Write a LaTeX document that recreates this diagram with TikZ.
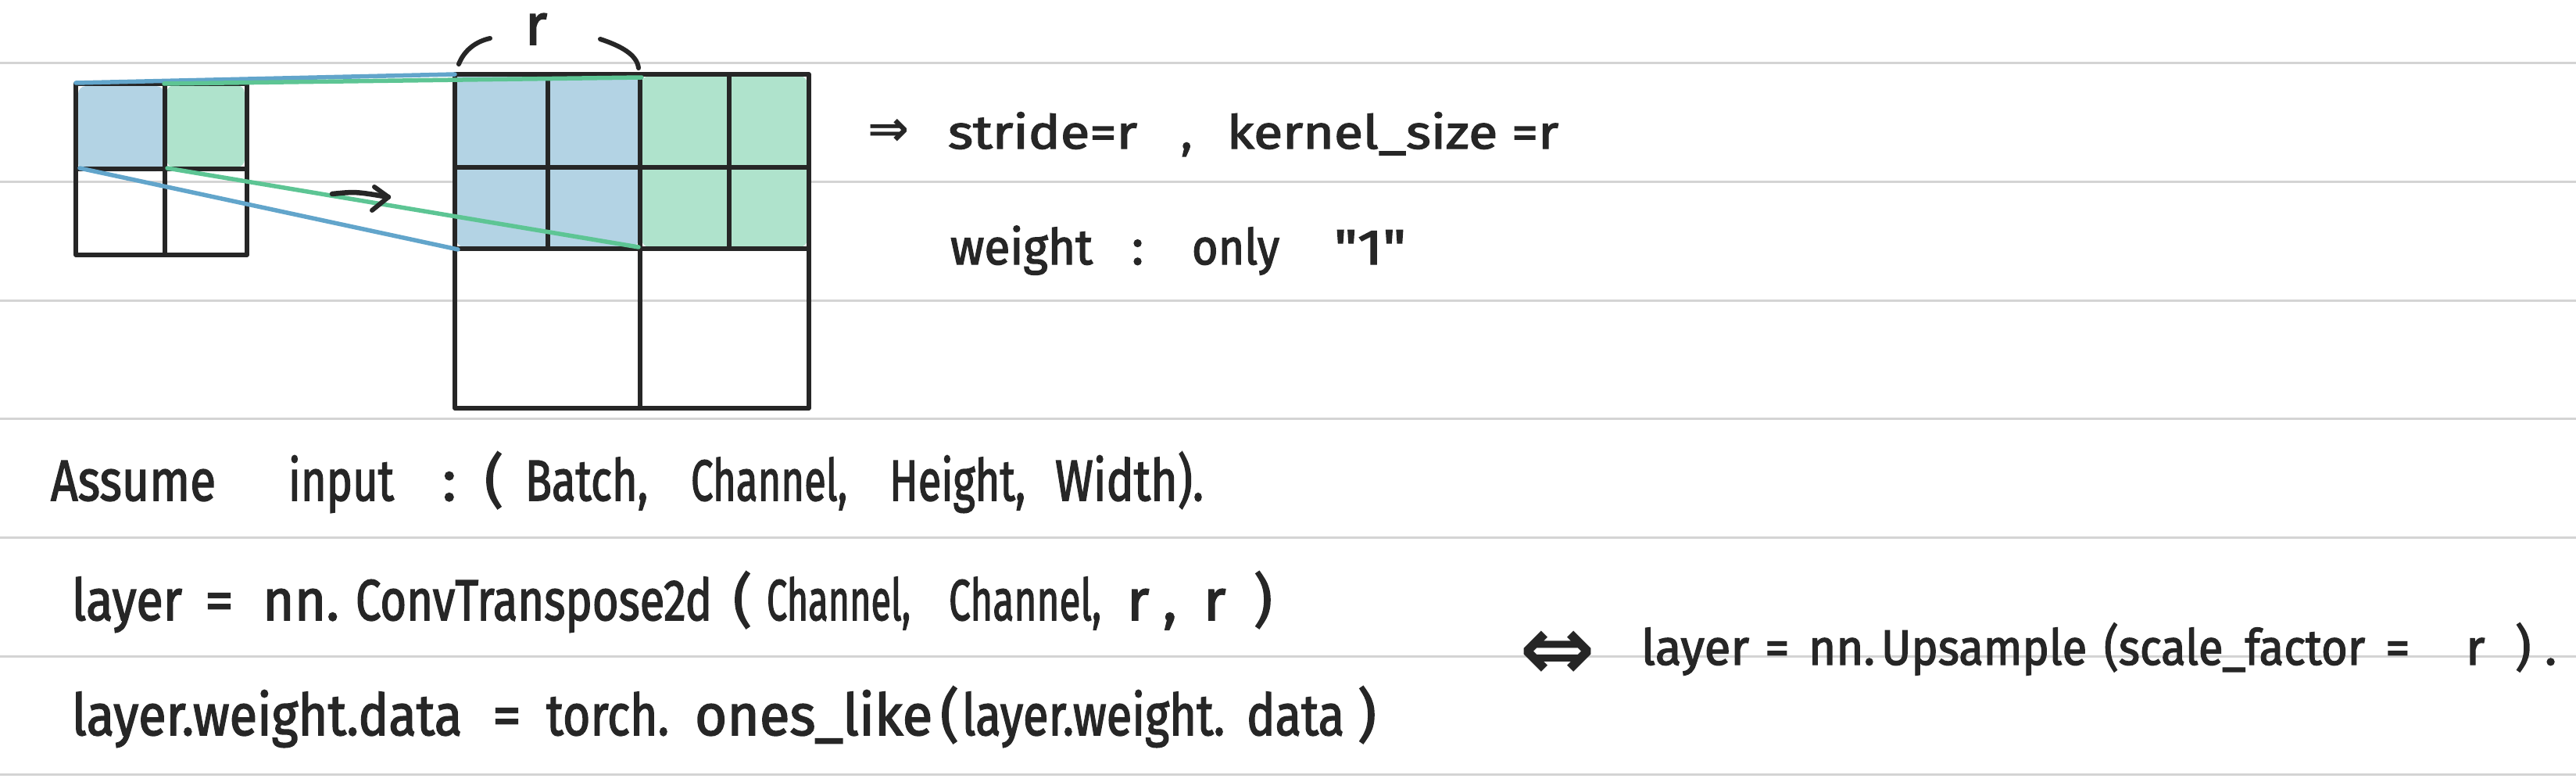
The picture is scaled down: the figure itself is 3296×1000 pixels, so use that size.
\documentclass[tikz,border=0pt]{standalone}
\usepackage{fontspec}
\usepackage{graphicx}
\newfontfamily\hand[FakeBold=2.2]{Fira Sans}
\newfontfamily\djv{DejaVu Sans}
\newcommand\fw[2]{\resizebox{#1cm}{\height}{#2}}
\definecolor{ink}{HTML}{262626}
\definecolor{rulegray}{HTML}{D4D4D4}
\definecolor{bluefill}{HTML}{B3D3E4}
\definecolor{greenfill}{HTML}{AFE3CC}
\definecolor{blueline}{HTML}{62A5CB}
\definecolor{greenline}{HTML}{5DC594}
\begin{document}
\begin{tikzpicture}[x=0.01cm,y=-0.01cm,
  rule/.style={draw=rulegray,line width=0.03cm},
  gridline/.style={draw=ink,line width=0.055cm,line cap=round,line join=round},
  pen/.style={draw=ink,line width=0.06cm,line cap=round,line join=round},
  bluelink/.style={draw=blueline,line width=0.055cm,line cap=round},
  greenlink/.style={draw=greenline,line width=0.055cm,line cap=round},
  txt/.style={anchor=base west,inner sep=0pt,outer sep=0pt,text=ink,font=\hand\fontsize{21}{24}\selectfont},
  txta/.style={txt,font=\hand\fontsize{17}{20}\selectfont},
  txtb/.style={txt,font=\hand\fontsize{18}{20}\selectfont},
  sym/.style={inner sep=0pt,outer sep=0pt,text=ink}
]
\useasboundingbox (0,0) rectangle (3296,1000);
\fill[white] (0,0) rectangle (3296,1000);
% ruled lines
\foreach \k in {0,...,6}
  \draw[rule] (0,{80.7+151.7*\k}) -- (3296,{80.7+151.7*\k});

% ---- small grid ----
\coordinate (s00) at (97,107);
\coordinate (s10) at (211,107);
\coordinate (s20) at (316,107);
\coordinate (s01) at (97,216);
\coordinate (s11) at (211,216);
\coordinate (s21) at (316,216);
\coordinate (s02) at (97,326);
\coordinate (s12) at (211,326);
\coordinate (s22) at (316,326);
\fill[bluefill,rounded corners=0.1cm] (100,110) rectangle (210,219);
\fill[greenfill,rounded corners=0.1cm] (213,109) rectangle (313,214);
\draw[gridline] (s00) rectangle (s22);
\draw[gridline] (s10) -- (s12);
\draw[gridline] (s01) -- (s21);

% ---- big grid ----
\coordinate (b00) at (582,95);
\coordinate (b10) at (701,95);
\coordinate (b20) at (819,95);
\coordinate (b30) at (933,95);
\coordinate (b40) at (1035,95);
\coordinate (b01) at (582,214);
\coordinate (b41) at (1035,214);
\coordinate (b02) at (582,318);
\coordinate (b12) at (701,318);
\coordinate (b22) at (819,318);
\coordinate (b32) at (933,318);
\coordinate (b42) at (1035,318);
\coordinate (b03) at (582,522);
\coordinate (b23) at (819,522);
\coordinate (b43) at (1035,522);
\fill[bluefill,rounded corners=0.1cm] (584,92) rectangle (817,316);
\fill[greenfill,rounded corners=0.1cm] (821,97) rectangle (1033,316);
\draw[gridline] (b00) rectangle (b43);
\draw[gridline] (b01) -- (b41);
\draw[gridline] (b02) -- (b42);
\draw[gridline] (b20) -- (b23);
\draw[gridline] (b10) -- (b12);
\draw[gridline] (b30) -- (b32);

% ---- connectors ----
\coordinate (bl1) at (97,106);
\coordinate (bl2) at (582,95);
\coordinate (bl3) at (102,215);
\coordinate (bl4) at (586,319);
\coordinate (gl1) at (210,107);
\coordinate (gl2) at (821,99);
\coordinate (gl3) at (214,215);
\coordinate (gl4) at (817,316);
\draw[bluelink] (bl1) -- (bl2);
\draw[bluelink] (bl3) -- (bl4);
\draw[greenlink] (gl1) -- (gl2);
\draw[greenlink] (gl3) -- (gl4);

% ---- small arrow ----
\coordinate (ar1) at (425,248);
\coordinate (ar2) at (497,252);
\coordinate (ah1) at (479,239);
\coordinate (ah2) at (476,269);
\draw[pen,line width=0.065cm] (ar1) .. controls (455,245) .. (ar2);
\draw[pen,line width=0.06cm] (ah1) -- (ar2) -- (ah2);

% ---- brace with r ----
\coordinate (lb1) at (587,82);
\coordinate (lb2) at (627,49);
\coordinate (rb1) at (768,50);
\coordinate (rb2) at (817,87);
\draw[pen] (lb1) .. controls (594,64) and (609,53) .. (lb2);
\draw[pen] (rb1) .. controls (795,59) and (815,70) .. (rb2);
\node[txt,anchor=base] (rlab) at (686,57) {r};

% ---- line A ----
\node[sym,font=\djv\bfseries\fontsize{18}{20}\selectfont] (a0) at (1137,169) {⇒};
\node[txta] (a1) at (1213,190) {\fw{2.42}{stride=r}};
\node[txta] (a2) at (1511,190) {,};
\node[txta] (a3) at (1570,190) {\fw{4.24}{kernel\_size =r}};

% ---- line B ----
\node[txtb] (b1) at (1216,338) {\fw{1.82}{weight}};
\node[txtb] (b2) at (1448,338) {:};
\node[txtb] (b3) at (1525,338) {\fw{1.12}{only}};
\node[txtb] (b4) at (1707,338) {\fw{0.92}{"1"}};

% ---- line C ----
\node[txt] (c1) at (65,640) {\fw{2.11}{Assume}};
\node[txt] (c2) at (369,640) {\fw{1.35}{input}};
\node[txt] (c3) at (566,640) {:};
\node[txt] (c4) at (620,640) {(};
\node[txt] (c5) at (672,640) {\fw{1.57}{Batch,}};
\node[txt] (c6) at (884,640) {\fw{2.00}{Channel,}};
\node[txt] (c7) at (1138,640) {\fw{1.74}{Height,}};
\node[txt] (c8) at (1350,640) {\fw{1.90}{Width).}};

% ---- line D ----
\node[txt] (d1) at (92,793) {\fw{1.41}{layer}};
\node[txt] (d2) at (262,793) {=};
\node[txt] (d3) at (336,793) {\fw{0.98}{nn.}};
\node[txt] (d4) at (455,793) {\fw{4.56}{ConvTranspose2d}};
\node[txt] (d5) at (938,793) {(};
\node[txt] (d6) at (981,793) {\fw{1.84}{Channel,}};
\node[txt] (d7) at (1214,793) {\fw{1.95}{Channel,}};
\node[txt] (d8) at (1442,793) {r};
\node[txt] (d8c) at (1488,793) {,};
\node[txt] (d9) at (1540,793) {r};
\node[txt] (d10) at (1604,793) {)};

% ---- line E ----
\node[txt] (e1) at (92,940) {\fw{4.99}{layer.weight.data}};
\node[txt] (e2) at (630,940) {=};
\node[txt] (e3) at (699,940) {\fw{1.57}{torch.}};
\node[txt] (e4) at (889,940) {\fw{3.04}{ones\_like}};
\node[txt] (e5) at (1203,940) {(};
\node[txt] (e6) at (1231,940) {\fw{3.36}{layer.weight.}};
\node[txt] (e7) at (1595,940) {\fw{1.25}{data}};
\node[txt] (e8) at (1737,940) {)};

% ---- line F ----
\node[sym] (f0) at (1993,838) {\resizebox{0.97cm}{!}{\djv\bfseries ⇔}};
\node[txtb] (f1) at (2100,850) {\fw{1.38}{layer}};
\node[txtb] (f2) at (2258,850) {=};
\node[txtb] (f3) at (2314,850) {\fw{0.85}{nn.}};
\node[txtb] (f4) at (2407,850) {\fw{2.63}{Upsample}};
\node[txtb] (f5) at (2692,850) {\fw{3.34}{(scale\_factor}};
\node[txtb] (f6) at (3052,850) {=};
\node[txtb] (f7) at (3155,850) {r};
\node[txtb] (f8) at (3218,850) {)};
\node[txtb] (f9) at (3256,850) {.};
\end{tikzpicture}
\end{document}
